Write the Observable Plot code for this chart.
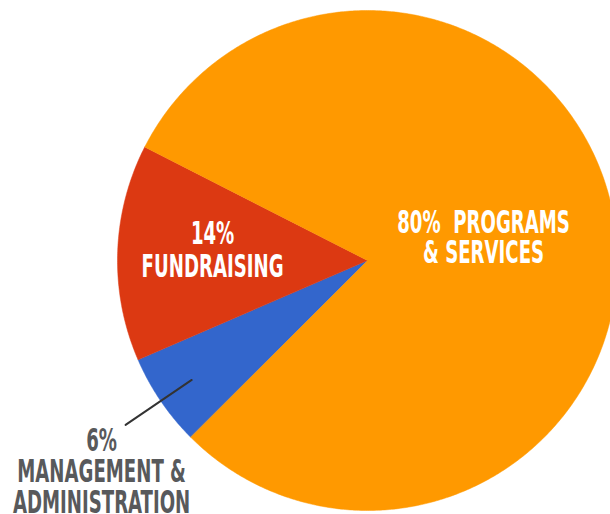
<!DOCTYPE html>
<html>
<head>
<meta charset="utf-8">
<script src="https://cdn.jsdelivr.net/npm/d3@7"></script>
<script src="https://cdn.jsdelivr.net/npm/@observablehq/plot@0.6"></script>
<style>
  html, body { margin: 0; padding: 0; background: #fff; overflow: hidden; }
</style>
</head>
<body>
<div id="chart"></div>
<script>
// ---- data ----
const categories = ["Management & Administration", "Fundraising", "Programs & Services"];
const values = [6, 14, 80];
const labelLines = [
  ["6%", "MANAGEMENT &", "ADMINISTRATION"],
  ["14%", "FUNDRAISING"],
  ["80%  PROGRAMS", "& SERVICES"]
];
const colors = ["#3366cc", "#dc3912", "#ff9900"];

// ---- layout ----
const W = 610, H = 514;
const cx = 367, cy = 260, R = 250;
const labelRadius = [1.17, 0.62, 0.47]; // fraction of R
const labelDy = [-3, -5, -4];
const lineGaps = [31, 33, 30];
const inside = [false, true, true];
const SCALE_X = 0.63;

const arcs = d3.pie().sort(null)
  .startAngle(-135 * Math.PI / 180)
  .endAngle(225 * Math.PI / 180)(values);

const polar = (a, r) => [cx + r * Math.sin(a), cy - r * Math.cos(a)];

// slice polygons
const slicePts = [];
arcs.forEach((a, i) => {
  slicePts.push({cat: categories[i], x: cx, y: cy});
  const n = Math.max(8, Math.ceil((a.endAngle - a.startAngle) / (Math.PI / 360)));
  for (let k = 0; k <= n; k++) {
    const t = a.startAngle + (a.endAngle - a.startAngle) * k / n;
    const [x, y] = polar(t, R);
    slicePts.push({cat: categories[i], x, y});
  }
});

// labels
const texts = [];
const leader = [];
arcs.forEach((a, i) => {
  const mid = (a.startAngle + a.endAngle) / 2;
  const [lx, ly0] = polar(mid, labelRadius[i] * R);
  const lines = labelLines[i];
  const gap = lineGaps[i];
  if (inside[i]) {
    const ly = ly0 + labelDy[i];
    lines.forEach((s, j) => texts.push({
      text: s, x: lx, y: ly + (j - (lines.length - 1) / 2) * gap, color: "#ffffff"
    }));
  } else {
    const [sx, sy] = polar(mid, 0.85 * R);
    leader.push({x: sx, y: sy, g: i}, {x: lx, y: ly0, g: i});
    lines.forEach((s, j) => texts.push({
      text: s, x: lx - 24, y: ly0 + 19 + labelDy[i] + j * gap, color: "#58595b"
    }));
  }
});

const plot = Plot.plot({
  width: W, height: H,
  margin: 0,
  x: {domain: [0, W], range: [0, W], axis: null},
  y: {domain: [0, H], range: [0, H], axis: null},
  color: {domain: categories, range: colors},
  style: {background: "#fff"},
  marks: [
    Plot.line(slicePts, {x: "x", y: "y", z: "cat", fill: "cat", stroke: "cat", strokeWidth: 0.5, curve: "linear-closed"}),
    Plot.line(leader, {x: "x", y: "y", z: "g", stroke: "#333", strokeWidth: 2}),
    Plot.text(texts, {
      x: "x", y: "y", text: "text", fill: "color",
      textAnchor: "middle", lineAnchor: "middle",
      fontSize: 32, fontWeight: "bold",
      fontFamily: "'DejaVu Sans Condensed', 'Liberation Sans Narrow', 'DejaVu Sans', sans-serif"
    })
  ]
});

// horizontally condense the label glyphs around their anchor
plot.querySelectorAll("g[aria-label='text'] text").forEach(t => {
  const tr = t.getAttribute("transform") || "";
  const x = +t.getAttribute("x") || 0, y = +t.getAttribute("y") || 0;
  if (/translate/.test(tr)) {
    t.setAttribute("transform", tr + ` scale(${SCALE_X},1)`);
  } else {
    t.setAttribute("transform", `translate(${x},${y}) scale(${SCALE_X},1) translate(${-x},${-y})`);
  }
});

document.getElementById("chart").appendChild(plot);
</script>
</body>
</html>
